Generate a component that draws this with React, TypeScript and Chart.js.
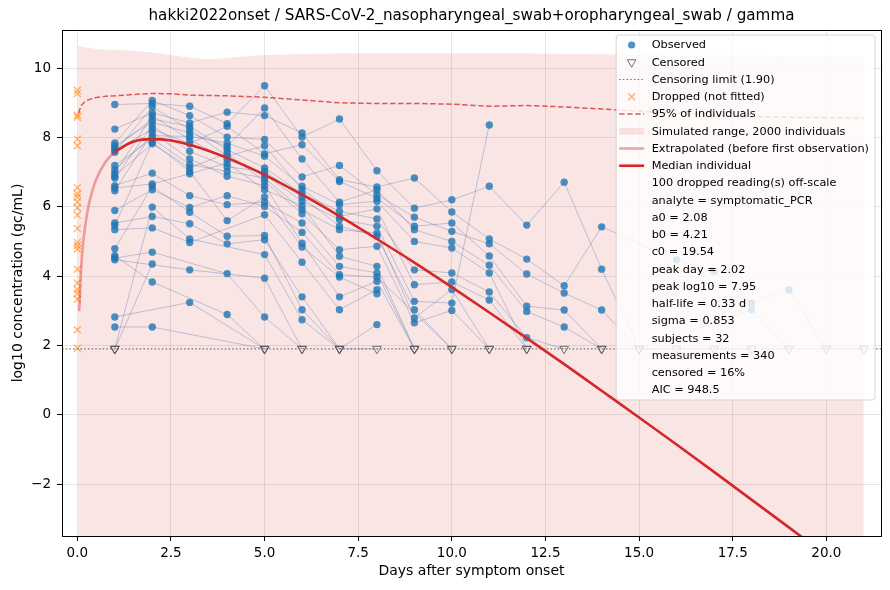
import { useEffect, useRef } from 'react'
import { Chart, registerables } from 'chart.js'

Chart.register(...registerables)

const TITLE = 'hakki2022onset / SARS-CoV-2_nasopharyngeal_swab+oropharyngeal_swab / gamma'
const X_LABEL = 'Days after symptom onset'
const Y_LABEL = 'log10 concentration (gc/mL)'

const X_MIN = -0.41
const X_MAX = 21.46
const Y_MIN = -3.5
const Y_MAX = 11.1
const X_TICKS = [0, 2.5, 5, 7.5, 10, 12.5, 15, 17.5, 20]
const Y_TICKS = [-2, 0, 2, 4, 6, 8, 10]

const CENSOR_LIMIT = 1.9
const C = 'c' // below the limit of detection

// one row per subject, entry i is the reading on day i + 1
const SUBJECTS: (number | null | string)[][] = [
  [8.95, 8.98, 8.9, 8.4, 9.49, 8.01, 8.53, 7.04, 5.96, 6.2, 6.59, 5.47, 6.71, 4.2, C, null, null, 3.03, C],
  [8.24, 8.71, 8.42, 8.73, 8.63, 8.13, 6.78, 6.57, 6.83, 5.85, 5.07, 4.49, 3.72, 5.42, null, 4.47, 4.14, 3.22, 3.6, C, C],
  [7.84, 9.07, 8.63, 8.01, 7.94, 6.86, 7.19, 6.35, 5.7, 5.29, 4.93, 4.06, 3.51, 3.02, C, C, C, C],
  [7.76, 8.44, 8.13, 7.74, 8.85, 7.38, 6.13, 6.49, 5.34, 5.0, 4.31, 2.98, 2.53, C],
  [7.7, 8.53, 8.32, 7.65, 7.12, 6.38, 5.87, 5.65, 4.18, 4.09, 3.54, 2.22, C],
  [7.63, 8.24, 7.82, 8.32, 7.53, 7.79, 6.73, 6.25, 5.44, 5.53, 4.58, 3.13, 3.02, C],
  [7.57, 8.88, 8.23, 7.46, 7.76, 6.5, 5.72, 5.94, 3.75, 3.83, 3.31, C],
  [7.19, 7.96, 7.22, 7.02, 6.83, 5.91, 5.34, 5.24, 2.79, 3.61, C],
  [7.07, 8.05, 8.03, 7.84, 7.46, 6.59, 6.06, 6.16, 5.0, 4.81, 4.09, C],
  [6.97, 8.63, 7.94, 7.36, 6.93, 6.16, 5.63, 5.44, 3.27, 3.22, 8.36],
  [6.88, 7.82, 7.12, 7.55, 6.73, 5.8, 4.76, 4.86, 2.65, 3.01, C],
  [6.83, 8.34, 7.6, 7.15, 7.02, 6.28, 5.44, 5.15, 3.03, C],
  [6.61, 6.97, 6.32, 6.06, 6.13, 5.53, 4.28, 4.09, C],
  [6.54, 6.66, 6.95, 7.26, 6.49, 6.03, 4.57, 4.28, C],
  [6.46, 8.15, 7.38, 6.88, 6.61, 4.95, 3.4, 3.85, C],
  [5.89, 6.49, 5.98, 6.32, 6.01, 5.26, 4.04, 3.97, null, C],
  [5.53, 5.72, 5.51, 4.93, 5.05, 3.4, C, 2.6],
  [5.46, 7.86, 7.02, 5.6, 6.28, 4.84, 3.97, 3.49],
  [5.34, 5.39, 4.97, null, 5.77, 4.4, 3.03, 3.61],
  [4.79, 6.59, 5.84, 5.15, 5.17, 3.03, C, C],
  [4.59, 3.83, null, 2.89, C],
  [4.52, 4.69, null, 4.07, 2.82, C],
  [4.47, null, 4.18, null, 3.94, C],
  [2.82, null, 3.24, null, C],
  [2.53, 2.53, null, null, C],
  [C, 5.99, 5.07, null, 4.62, 2.74, C],
  [C, 4.35],
  [C],
]

// off-scale readings on day 0, not fitted
const DROPPED = [9.36, 9.27, 8.64, 8.58, 7.95, 7.76, 6.55, 6.37, 6.28, 6.14, 5.97, 5.76, 5.37,
  4.97, 4.88, 4.78, 4.2, 3.8, 3.61, 3.5, 3.33, 2.45, 1.92]

const MEDIAN_X = [1, 1.5, 2, 2.5, 3, 4, 5, 6, 7, 8, 9, 10, 11, 12, 13, 14, 15, 16, 17, 18, 19, 20, 21]
const MEDIAN_Y = [7.59, 7.88, 7.95, 7.91, 7.79, 7.41, 6.92, 6.35, 5.73, 5.07, 4.39, 3.68, 2.95, 2.21,
  1.46, 0.69, -0.08, -0.86, -1.65, -2.45, -3.25, -4.06, -4.87]

const EXTRAP_X = [0.05, 0.1, 0.15, 0.2, 0.3, 0.4, 0.5, 0.75, 1]
const EXTRAP_Y = [2.99, 4.21, 4.9, 5.38, 6.03, 6.46, 6.78, 7.29, 7.59]

const P95_X = [0.03, 0.1, 0.2, 0.3, 0.5, 0.75, 1, 1.5, 2, 2.5, 3, 4, 5, 6, 7, 8, 9, 10, 11, 12, 13, 14,
  15, 16, 17, 18, 19, 20, 21]
const P95_Y = [8.7, 8.92, 9.03, 9.09, 9.15, 9.19, 9.2, 9.24, 9.27, 9.26, 9.22, 9.2, 9.16, 9.08, 9.0,
  8.98, 8.98, 8.96, 8.9, 8.92, 8.88, 8.82, 8.76, 8.7, 8.65, 8.6, 8.58, 8.57, 8.56]

const SIM_X = [0.02, 0.5, 1, 1.5, 2, 2.5, 3, 3.5, 4, 5, 6, 7, 8, 10, 12, 14, 16, 18, 21]
const SIM_HI = [10.63, 10.55, 10.52, 10.5, 10.45, 10.38, 10.3, 10.25, 10.3, 10.38, 10.41, 10.42,
  10.43, 10.43, 10.42, 10.4, 10.38, 10.36, 10.33]
const SIM_LO = [-5.2, -5.6, -6.0, -6.3, -6.6, -6.9, -7.2, -7.5, -7.8, -8.3, -8.8, -9.3, -9.8, -10.6,
  -11.4, -12.2, -13.0, -13.8, -15.0]

const LEGEND = [
  { label: 'Observed', kind: 'observed' },
  { label: 'Censored', kind: 'censored' },
  { label: `Censoring limit (${CENSOR_LIMIT.toFixed(2)})`, kind: 'limit' },
  { label: 'Dropped (not fitted)', kind: 'dropped' },
  { label: '95% of individuals', kind: 'p95' },
  { label: 'Simulated range, 2000 individuals', kind: 'sim' },
  { label: 'Extrapolated (before first observation)', kind: 'extrap' },
  { label: 'Median individual', kind: 'median' },
]
const STATS = [
  '100 dropped reading(s) off-scale',
  'analyte = symptomatic_PCR',
  'a0 = 2.08',
  'b0 = 4.21',
  'c0 = 19.54',
  'peak day = 2.02',
  'peak log10 = 7.95',
  'half-life = 0.33 d',
  'sigma = 0.853',
  'subjects = 32',
  'measurements = 340',
  'censored = 16%',
  'AIC = 948.5',
]

const BLUE = 'rgba(31,119,180,0.8)'
const RED = '#d62728'
const RED_LIGHT = 'rgba(214,39,40,0.4)'
const RED_DASH = 'rgba(214,39,40,0.75)'
const PINK = 'rgba(214,39,40,0.12)'
const ORANGE = 'rgba(255,127,14,0.6)'
const GREY = 'rgba(90,90,90,0.85)'
const FONT = '"DejaVu Sans", sans-serif'

const pts = (xs: number[], ys: number[]) => xs.map((x, i) => ({ x, y: ys[i] }))

function drawHandle(ctx: CanvasRenderingContext2D, kind: string | undefined, xa: number, xb: number, cy: number) {
  const xm = (xa + xb) / 2
  ctx.save()
  const line = (color: string, width: number, dash: number[]) => {
    ctx.strokeStyle = color
    ctx.lineWidth = width
    ctx.setLineDash(dash)
    ctx.beginPath()
    ctx.moveTo(xa, cy)
    ctx.lineTo(xb, cy)
    ctx.stroke()
  }
  if (kind === 'observed') {
    ctx.fillStyle = BLUE
    ctx.beginPath()
    ctx.arc(xm, cy, 3.6, 0, Math.PI * 2)
    ctx.fill()
  } else if (kind === 'censored') {
    const r = 5
    ctx.strokeStyle = GREY
    ctx.lineWidth = 1
    ctx.beginPath()
    ctx.moveTo(xm, cy + r)
    ctx.lineTo(xm - r * 0.866, cy - r / 2)
    ctx.lineTo(xm + r * 0.866, cy - r / 2)
    ctx.closePath()
    ctx.stroke()
  } else if (kind === 'limit') {
    line(GREY, 1.2, [1.5, 2.2])
  } else if (kind === 'dropped') {
    const r = 3.5
    ctx.strokeStyle = ORANGE
    ctx.lineWidth = 1.3
    ctx.beginPath()
    ctx.moveTo(xm - r, cy - r)
    ctx.lineTo(xm + r, cy + r)
    ctx.moveTo(xm - r, cy + r)
    ctx.lineTo(xm + r, cy - r)
    ctx.stroke()
  } else if (kind === 'p95') {
    line(RED_DASH, 1.5, [5.5, 2.5])
  } else if (kind === 'sim') {
    ctx.fillStyle = PINK
    ctx.fillRect(xa, cy - 3.5, xb - xa, 7)
  } else if (kind === 'extrap') {
    line(RED_LIGHT, 2.6, [])
  } else if (kind === 'median') {
    line(RED, 2.6, [])
  }
  ctx.restore()
}

const frameAndLegend = {
  id: 'frameAndLegend',
  afterDraw(chart: Chart) {
    const { ctx, chartArea } = chart
    ctx.save()
    const l = Math.round(chartArea.left) + 0.5
    const t = Math.round(chartArea.top) + 0.5
    const r = Math.round(chartArea.right) + 0.5
    const b = Math.round(chartArea.bottom) + 0.5
    ctx.strokeStyle = '#000'
    ctx.lineWidth = 1
    ctx.strokeRect(l, t, r - l, b - t)

    // title, centred over the axes
    ctx.font = `15.2px ${FONT}`
    ctx.fillStyle = '#000'
    ctx.textAlign = 'center'
    ctx.textBaseline = 'middle'
    ctx.fillText(TITLE, (chartArea.left + chartArea.right) / 2, 16.5)

    const rows = [...LEGEND.map(e => e.label), ...STATS]
    ctx.font = `11.3px ${FONT}`
    const textW = Math.max(...rows.map(s => ctx.measureText(s).width))
    const rowH = 17.25
    const w = 35.5 + textW + 6
    const h = 20 + (rows.length - 1) * rowH
    const x0 = chartArea.right - 6 - w
    const y0 = chartArea.top + 5
    ctx.beginPath()
    ctx.roundRect(x0, y0, w, h, 3)
    ctx.fillStyle = 'rgba(255,255,255,0.8)'
    ctx.fill()
    ctx.strokeStyle = 'rgba(204,204,204,0.8)'
    ctx.stroke()
    rows.forEach((text, i) => {
      const cy = y0 + 10 + i * rowH
      drawHandle(ctx, LEGEND[i]?.kind, x0 + 3, x0 + 28, cy)
      ctx.fillStyle = '#000'
      ctx.textBaseline = 'middle'
      ctx.textAlign = 'left'
      ctx.fillText(text, x0 + 35.5, cy + 0.5)
    })
    ctx.restore()
  },
}

export default function App() {
  const canvasRef = useRef<HTMLCanvasElement>(null)
  const chartRef = useRef<Chart | null>(null)

  useEffect(() => {
    if (!canvasRef.current) return
    chartRef.current?.destroy()

    Chart.defaults.font.family = FONT
    Chart.defaults.color = '#000'

    const observed: { x: number; y: number }[] = []
    const censored: { x: number; y: number }[] = []
    SUBJECTS.forEach(row => row.forEach((v, i) => {
      if (typeof v === 'number') observed.push({ x: i + 1, y: v })
      else if (v === C) censored.push({ x: i + 1, y: CENSOR_LIMIT })
    }))

    const subjectLines = SUBJECTS.map(row => ({
      type: 'line' as const,
      data: row.flatMap((v, i) => v == null ? [] : [{ x: i + 1, y: v === C ? CENSOR_LIMIT : (v as number) }]),
      borderColor: 'rgba(60,105,170,0.33)',
      borderWidth: 1,
      pointRadius: 0,
      order: 7,
    }))

    chartRef.current = new Chart(canvasRef.current, {
      type: 'line',
      data: {
        datasets: [
          {
            data: pts(MEDIAN_X, MEDIAN_Y),
            borderColor: RED,
            borderWidth: 2.6,
            pointRadius: 0,
            cubicInterpolationMode: 'monotone',
            order: 1,
          },
          {
            data: pts(EXTRAP_X, EXTRAP_Y),
            borderColor: RED_LIGHT,
            borderWidth: 2.6,
            pointRadius: 0,
            cubicInterpolationMode: 'monotone',
            order: 2,
          },
          {
            data: DROPPED.map(y => ({ x: 0, y })),
            showLine: false,
            pointStyle: 'crossRot',
            pointRadius: 5,
            borderColor: ORANGE,
            borderWidth: 1.3,
            order: 3,
          },
          {
            data: censored,
            showLine: false,
            pointStyle: 'triangle',
            rotation: 180,
            pointRadius: 5,
            borderColor: GREY,
            backgroundColor: 'rgba(0,0,0,0)',
            borderWidth: 1,
            order: 4,
          },
          {
            data: observed,
            showLine: false,
            pointStyle: 'circle',
            pointRadius: 3.7,
            backgroundColor: BLUE,
            borderWidth: 0,
            order: 5,
          },
          {
            data: [{ x: X_MIN, y: CENSOR_LIMIT }, { x: X_MAX, y: CENSOR_LIMIT }],
            borderColor: GREY,
            borderWidth: 1.2,
            borderDash: [1.5, 2.2],
            pointRadius: 0,
            order: 6,
          },
          ...subjectLines,
          {
            data: pts(P95_X, P95_Y),
            borderColor: RED_DASH,
            borderWidth: 1.5,
            borderDash: [5.5, 2.5],
            pointRadius: 0,
            order: 8,
          },
          {
            data: pts(SIM_X, SIM_HI),
            borderColor: 'rgba(0,0,0,0)',
            borderWidth: 0,
            pointRadius: 0,
            fill: '+1',
            backgroundColor: PINK,
            order: 9,
          },
          {
            data: pts(SIM_X, SIM_LO),
            borderColor: 'rgba(0,0,0,0)',
            borderWidth: 0,
            pointRadius: 0,
            order: 10,
          },
        ],
      },
      options: {
        animation: false,
        responsive: true,
        maintainAspectRatio: false,
        events: [],
        layout: { padding: { left: 0, right: 9, top: 30, bottom: 0 } },
        plugins: {
          legend: { display: false },
          tooltip: { enabled: false },
        },
        scales: {
          x: {
            type: 'linear',
            min: X_MIN,
            max: X_MAX,
            afterBuildTicks: (scale) => { scale.ticks = X_TICKS.map(value => ({ value })) },
            afterFit: (scale) => { scale.height = 54 },
            ticks: {
              callback: (v) => Number(v).toFixed(1),
              font: { size: 13.5 },
              color: '#000',
              padding: 4,
              maxRotation: 0,
            },
            grid: { color: 'rgba(0,0,0,0.1)', tickColor: '#000', tickLength: 5 },
            border: { display: false },
            title: { display: true, text: X_LABEL, font: { size: 14 }, color: '#000', padding: { top: 0, bottom: 10 } },
          },
          y: {
            type: 'linear',
            min: Y_MIN,
            max: Y_MAX,
            afterBuildTicks: (scale) => { scale.ticks = Y_TICKS.map(value => ({ value })) },
            afterFit: (scale) => { scale.width = 62 },
            ticks: {
              callback: (v) => (Number(v) < 0 ? '\u2212' + Math.abs(Number(v)) : String(v)),
              font: { size: 13.5 },
              color: '#000',
              padding: 6,
            },
            grid: { color: 'rgba(0,0,0,0.1)', tickColor: '#000', tickLength: 5 },
            border: { display: false },
            title: { display: true, text: Y_LABEL, font: { size: 14 }, color: '#000', padding: { top: 10, bottom: 0 } },
          },
        },
      },
      plugins: [frameAndLegend],
    })

    return () => { chartRef.current?.destroy() }
  }, [])

  return (
    <div style={{ position: 'absolute', left: 0, top: 0, width: 890, height: 590, background: '#fff' }}>
      <canvas ref={canvasRef} />
    </div>
  )
}
